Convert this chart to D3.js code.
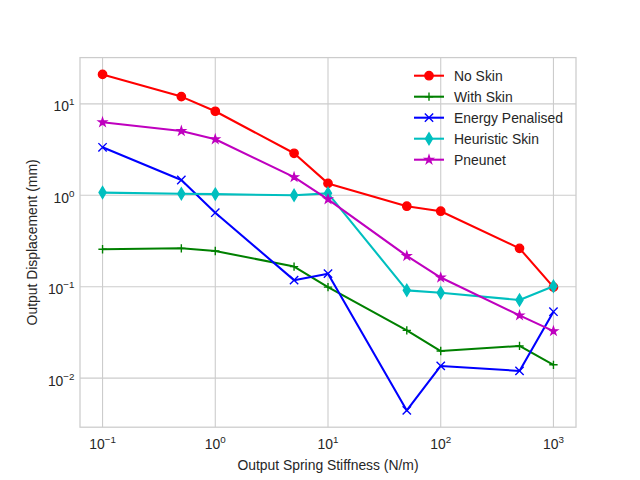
<!DOCTYPE html>
<html>
<head>
<meta charset="utf-8">
<script src="https://cdn.jsdelivr.net/npm/d3@7"></script>
<style>
body { margin: 0; background: #fff; }
text { font-family: "Liberation Sans", Arial, sans-serif; fill: #262626; }
</style>
</head>
<body>
<div id="chart"></div>
<script>
const stiffness = [0.1, 0.5, 1, 5, 10, 50, 100, 500, 1000];
const noSkin = [21.0, 12.0, 8.3, 2.88, 1.35, 0.76, 0.67, 0.263, 0.099];
const withSkin = [0.257, 0.263, 0.246, 0.166, 0.099, 0.0333, 0.0198, 0.0225, 0.0140];
const energyPenalised = [3.35, 1.47, 0.645, 0.118, 0.139, 0.00444, 0.0136, 0.0120, 0.0533];
const heuristicSkin = [1.07, 1.04, 1.03, 1.0, 1.05, 0.0913, 0.0859, 0.0715, 0.101];
const pneunet = [6.29, 5.05, 4.1, 1.58, 0.904, 0.217, 0.126, 0.0486, 0.0327];
const seriesNames = ["No Skin", "With Skin", "Energy Penalised", "Heuristic Skin", "Pneunet"];
const xTicks = [0.1, 1, 10, 100, 1000];
const yTicks = [0.01, 0.1, 1, 10];

const width = 640, height = 480;
const margin = {top: 57.6, right: 64, bottom: 52.8, left: 80};
const inWidth = width - margin.left - margin.right,
      inHeight = height - margin.top - margin.bottom;

const allSeries = [noSkin, withSkin, energyPenalised, heuristicSkin, pneunet];
const colors = ["#ff0000", "#008000", "#0000ff", "#00bfbf", "#bf00bf"];
const markers = ["o", "+", "x", "d", "*"];

// matplotlib style 5% padding in log space
function logPad(vals) {
  const lo = Math.log10(d3.min(vals)), hi = Math.log10(d3.max(vals));
  const p = (hi - lo) * 0.05;
  return [Math.pow(10, lo - p), Math.pow(10, hi + p)];
}

const x = d3.scaleLog().domain(logPad(stiffness)).range([0, inWidth]);
const y = d3.scaleLog().domain(logPad(allSeries.flat())).range([inHeight, 0]);

const ms = 8.33, mew = 1.39;
function markerPath(type) {
  const h = ms / 2;
  switch (type) {
    case "o": return d3.symbol(d3.symbolCircle, Math.PI * h * h)();
    case "+": return `M${-h},0H${h}M0,${-h}V${h}`;
    case "x": return `M${-h},${-h}L${h},${h}M${-h},${h}L${h},${-h}`;
    case "d": {
      const a = ms * 0.7071, b = a * 0.6;
      return `M0,${-a}L${b},0L0,${a}L${-b},0Z`;
    }
    case "*": {
      const pts = [];
      for (let i = 0; i < 10; i++) {
        const r = i % 2 === 0 ? h : h * 0.381966;
        const ang = -Math.PI / 2 + i * Math.PI / 5;
        pts.push([r * Math.cos(ang), r * Math.sin(ang)]);
      }
      return "M" + pts.map(p => p.join(",")).join("L") + "Z";
    }
  }
}
const filled = t => t === "o" || t === "d" || t === "*";

const svg = d3.select("#chart").append("svg")
  .attr("width", width)
  .attr("height", height);

const g = svg.append("g")
  .attr("transform", `translate(${margin.left}, ${margin.top})`);

//Grid
g.selectAll(".xgrid").data(xTicks).enter().append("line")
  .attr("x1", d => x(d)).attr("x2", d => x(d))
  .attr("y1", 0).attr("y2", inHeight)
  .attr("stroke", "#cccccc").attr("stroke-width", 1.1);
g.selectAll(".ygrid").data(yTicks).enter().append("line")
  .attr("y1", d => y(d)).attr("y2", d => y(d))
  .attr("x1", 0).attr("x2", inWidth)
  .attr("stroke", "#cccccc").attr("stroke-width", 1.1);

//Frame
g.append("rect")
  .attr("width", inWidth).attr("height", inHeight)
  .attr("fill", "none").attr("stroke", "#cccccc").attr("stroke-width", 1.25);

//Tick labels
function expLabel(sel, d) {
  const e = Math.round(Math.log10(d));
  sel.append("tspan").text("10");
  sel.append("tspan").attr("dy", -6).style("font-size", "9.8px")
    .text(e < 0 ? "\u2212" + (-e) : String(e));
}
g.selectAll(".xtick").data(xTicks).enter().append("text")
  .attr("x", d => x(d))
  .attr("y", inHeight + 21.5)
  .attr("text-anchor", "middle")
  .style("font-size", "13.9px")
  .each(function(d) { expLabel(d3.select(this), d); });
g.selectAll(".ytick").data(yTicks).enter().append("text")
  .attr("x", -5.5)
  .attr("y", d => y(d) + 7.5)
  .attr("text-anchor", "end")
  .style("font-size", "13.9px")
  .each(function(d) { expLabel(d3.select(this), d); });

//Axis labels
svg.append("text")
  .attr("x", margin.left + inWidth / 2)
  .attr("y", 470)
  .attr("text-anchor", "middle")
  .style("font-size", "13.9px")
  .text("Output Spring Stiffness (N/m)");
svg.append("text")
  .attr("transform", `translate(37, ${margin.top + inHeight / 2}) rotate(-90)`)
  .attr("text-anchor", "middle")
  .style("font-size", "13.9px")
  .text("Output Displacement (mm)");

//Series
const line = d3.line()
  .x((d, i) => x(stiffness[i]))
  .y(d => y(d));

allSeries.forEach((vals, s) => {
  const sg = g.append("g");
  sg.append("path")
    .attr("d", line(vals))
    .attr("fill", "none")
    .attr("stroke", colors[s])
    .attr("stroke-width", 2.08)
    .attr("stroke-linejoin", "round");
  sg.selectAll(".mk").data(vals).enter().append("path")
    .attr("transform", (d, i) => `translate(${x(stiffness[i])}, ${y(d)})`)
    .attr("d", markerPath(markers[s]))
    .attr("fill", filled(markers[s]) ? colors[s] : "none")
    .attr("stroke", colors[s])
    .attr("stroke-width", mew);
});

//Legend
const legend = svg.append("g")
  .attr("transform", "translate(414, 75.7)");
const rows = legend.selectAll(".row").data(seriesNames).enter().append("g")
  .attr("transform", (d, i) => `translate(0, ${i * 21})`);
rows.append("line")
  .attr("x1", 0).attr("x2", 30)
  .attr("stroke", (d, i) => colors[i])
  .attr("stroke-width", 2.08);
rows.append("path")
  .attr("transform", "translate(15, 0)")
  .attr("d", (d, i) => markerPath(markers[i]))
  .attr("fill", (d, i) => filled(markers[i]) ? colors[i] : "none")
  .attr("stroke", (d, i) => colors[i])
  .attr("stroke-width", mew);
rows.append("text")
  .attr("x", 40)
  .attr("y", 5)
  .style("font-size", "13.9px")
  .text(d => d);
</script>
</body>
</html>
